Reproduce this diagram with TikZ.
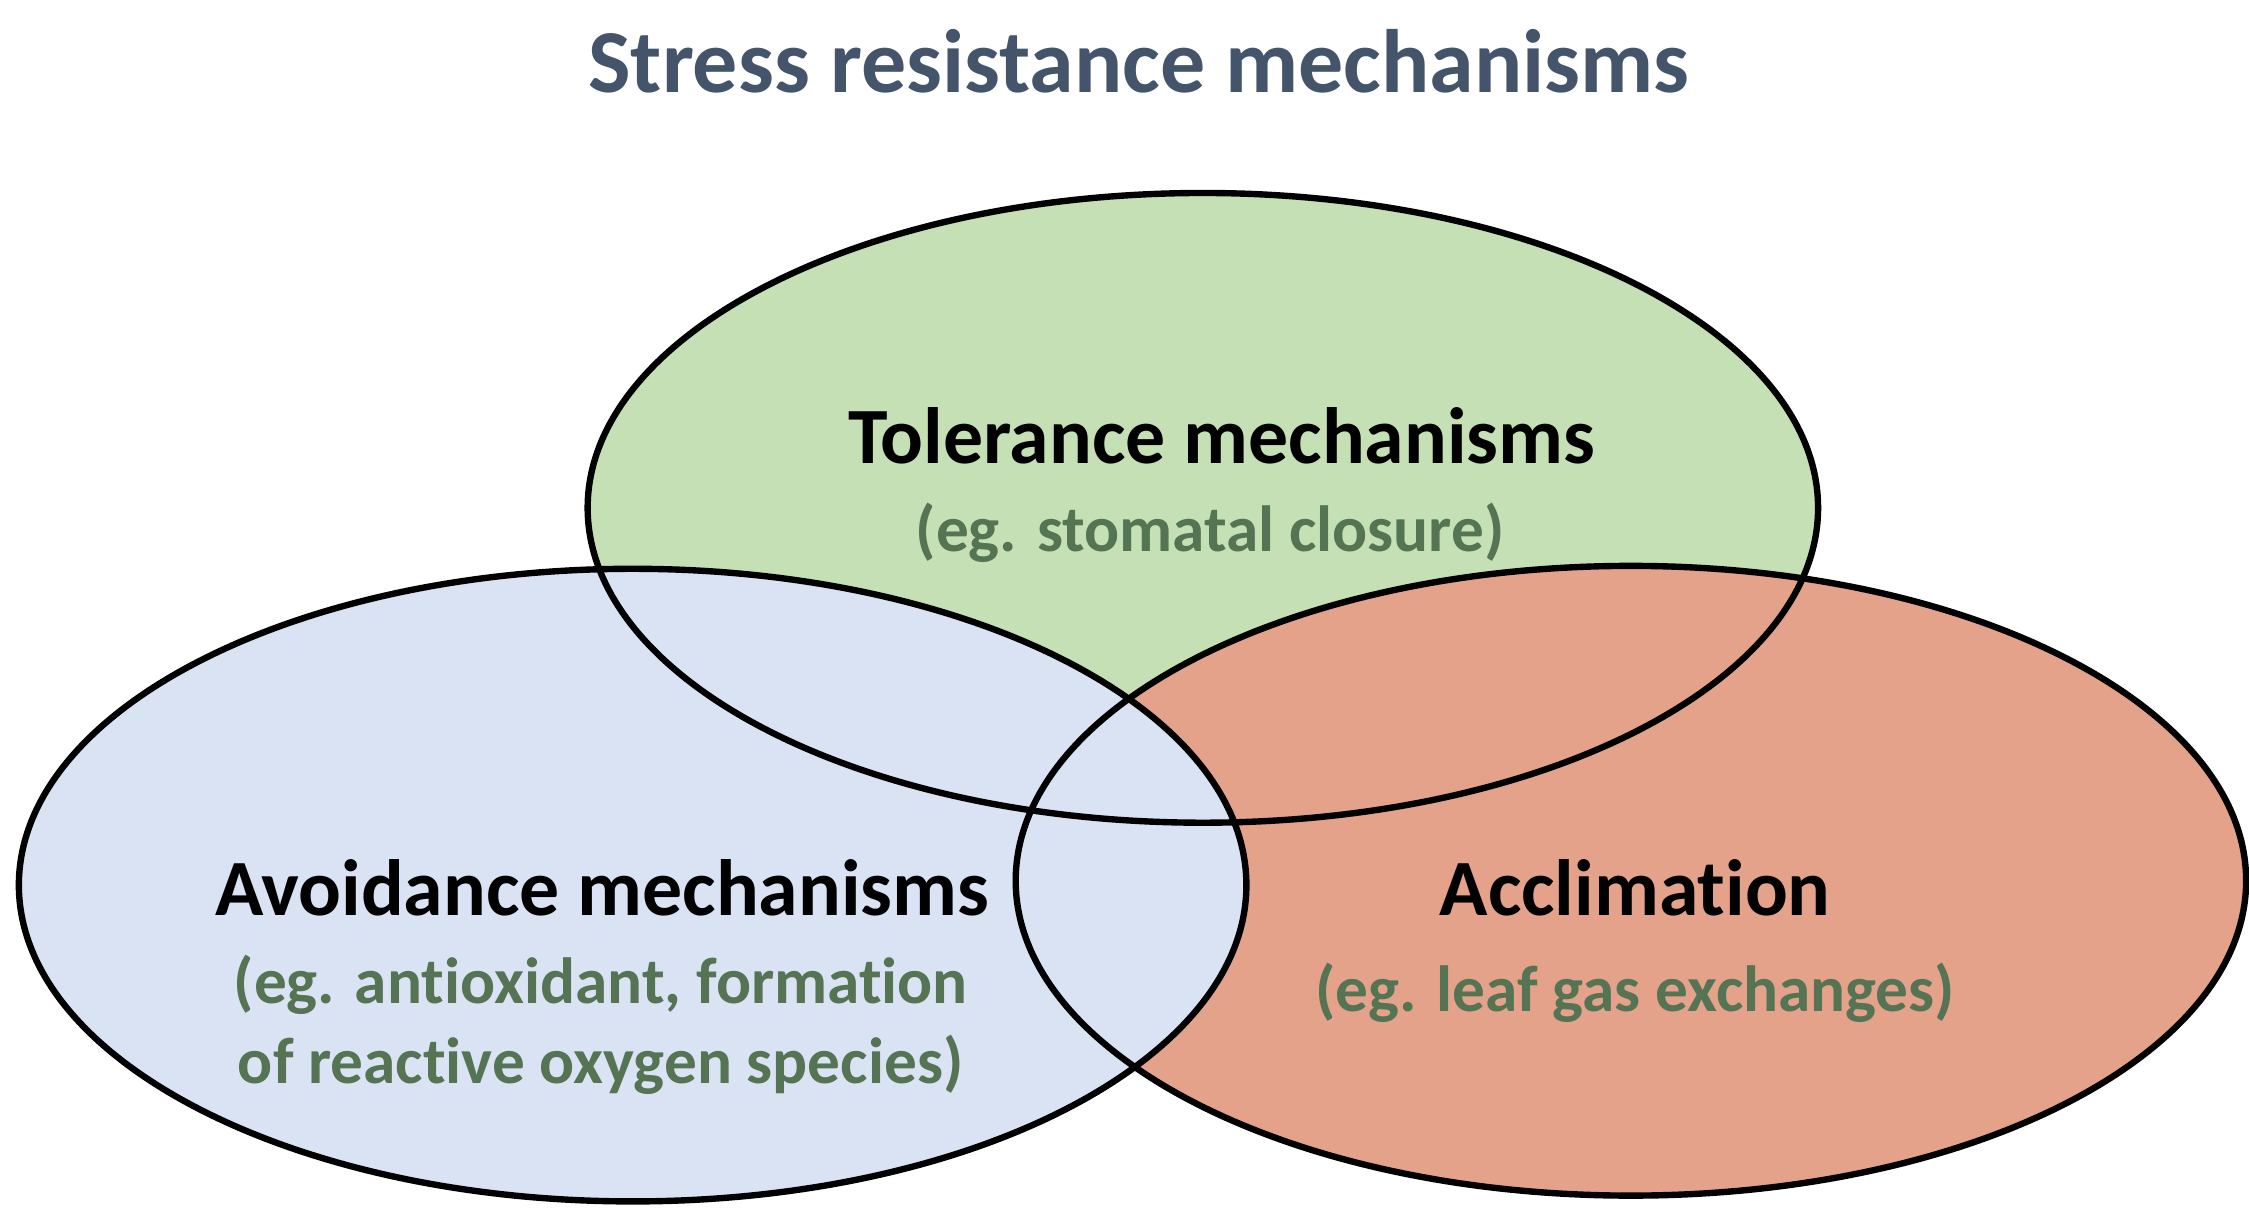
\documentclass[tikz,border=0pt]{standalone}
\usepackage{fontspec}
\setmainfont{Carlito}[Ligatures=NoCommon]
\usepackage{tikz}
\definecolor{titlegray}{RGB}{68,84,106}
\definecolor{subgreen}{RGB}{84,116,84}
\definecolor{tolfill}{RGB}{197,224,180}
\definecolor{avofill}{RGB}{218,227,243}
\definecolor{accfill}{RGB}{228,162,138}
\begin{document}
\begin{tikzpicture}[x=0.5pt,y=0.5pt,yscale=-1,xscale=1]
\useasboundingbox (0,0) rectangle (1550,835);

% Ellipse fills
\fill [tolfill] (829,350) ellipse (424 and 217);
\fill [accfill] (1124,607) ellipse (424 and 217);
\fill [avofill] (436,610) ellipse (423 and 218);

% Ellipse outlines
\draw [line width=2.2pt] (829,350) ellipse (424 and 217);
\draw [line width=2.2pt] (1124,607) ellipse (424 and 217);
\draw [line width=2.2pt] (436,610) ellipse (423 and 218);

% Title
\draw (785,42) node [font=\fontsize{31}{36}\selectfont\bfseries, text=titlegray] (title) {Stress resistance mechanisms};

% Text Node
\draw (842,300) node [font=\fontsize{27.5}{32}\selectfont\bfseries] (tol) {Tolerance mechanisms};
% Text Node
\draw (834,367) node [font=\fontsize{22.5}{27}\selectfont\bfseries, text=subgreen] (tolsub) {(eg. stomatal closure)};
% Text Node
\draw (415,612) node [font=\fontsize{27.5}{32}\selectfont\bfseries] (avo) {Avoidance mechanisms};
% Text Node
\draw (414,706) node [font=\fontsize{22.5}{27.5}\selectfont\bfseries, text=subgreen, align=center] (avosub) {(eg. antioxidant, formation\\of reactive oxygen species)};
% Text Node
\draw (1127,612) node [font=\fontsize{27.5}{32}\selectfont\bfseries] (acc) {Acclimation};
% Text Node
\draw (1127,684) node [font=\fontsize{22.5}{27}\selectfont\bfseries, text=subgreen] (accsub) {(eg. leaf gas exchanges)};

\end{tikzpicture}
\end{document}
